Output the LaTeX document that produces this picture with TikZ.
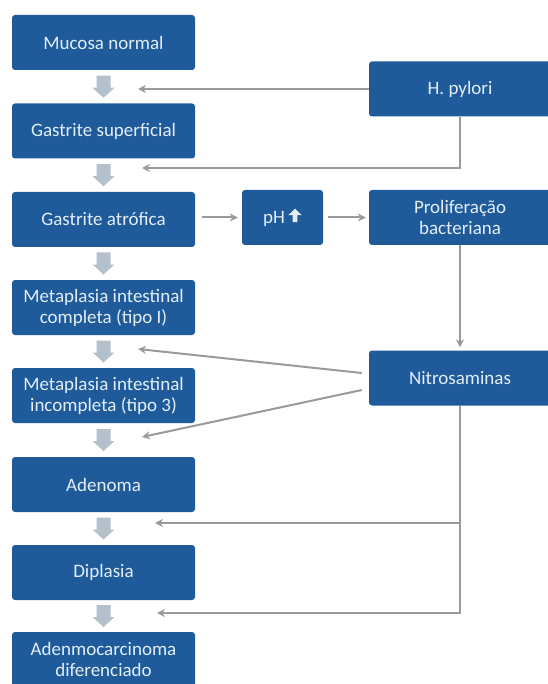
\documentclass[tikz,border=0pt]{standalone}
\usepackage{fontspec}
\setmainfont{Carlito}
\usetikzlibrary{arrows.meta,calc}
\definecolor{boxblue}{HTML}{1F5B9A}
\definecolor{boxtext}{HTML}{E4EEF9}
\definecolor{lineGrey}{HTML}{9A9A9A}
\definecolor{blockGrey}{HTML}{B5C0CD}
\newcommand\blockarr[2]{\fill[blockGrey] ($(#1.south)!0.5!(#2.north)$) ++(-7,-11) -- ++(14,0) -- ++(0,12) -- ++(4,0) -- ++(-11,10) -- ++(-11,-10) -- ++(4,0) -- cycle;}
\begin{document}
\begin{tikzpicture}[x=1pt,y=-1pt,
  box/.style={fill=boxblue, rounded corners=3pt, text=boxtext, align=center,
    minimum width=183pt, minimum height=55pt, inner sep=0pt,
    font=\fontsize{19}{21}\selectfont},
  rbox/.style={box, minimum width=182pt},
  conn/.style={draw=lineGrey, line width=2pt, -{Stealth[length=8pt,width=8pt]}}]
\useasboundingbox (0,0) rectangle (547,684);
% main column
\node[box] (mn) at (103.5,42.5) {Mucosa normal};
\node[box] (gs) at (103.5,131) {Gastrite superficial};
\node[box] (ga) at (103.5,219.5) {Gastrite atrófica};
\node[box] (mc) at (103.5,307.5) {Metaplasia intestinal\\completa (tipo I)};
\node[box] (mi) at (103.5,395.5) {Metaplasia intestinal\\incompleta (tipo 3)};
\node[box] (ad) at (103.5,484.5) {Adenoma};
\node[box] (di) at (103.5,572.5) {Diplasia};
\node[box] (ac) at (103.5,659.5) {Adenmocarcinoma\\diferenciado};
% right column
\node[rbox] (hp) at (460,89) {H. pylori};
\node[rbox] (pb) at (460,217.5) {Proliferação\\bacteriana};
\node[rbox] (ni) at (460,378) {Nitrosaminas};
\node[box, minimum width=81pt] (ph) at (282.5,217.5) {pH\,\tikz[x=1pt,y=1pt,baseline=-1pt,sharp corners]\fill[boxtext] (-2.3,0) -- (2.3,0) -- (2.3,7) -- (6.8,7) -- (0,13.5) -- (-6.8,7) -- (-2.3,7) -- cycle;};
% block arrows
\blockarr{mn}{gs}
\blockarr{gs}{ga}
\blockarr{ga}{mc}
\blockarr{mc}{mi}
\blockarr{mi}{ad}
\blockarr{ad}{di}
\blockarr{di}{ac}
% connectors
\coordinate (t1) at (138,89);
\draw[conn] (hp.west) -- (t1);
\coordinate (c2) at (460,168);
\coordinate (t2) at (142,168);
\draw[conn] (hp.south) -- (c2) -- (t2);
\draw[conn, shorten <=7pt, shorten >=4pt] (ga.east |- ph.west) -- (ph.west);
\draw[conn, shorten <=5pt, shorten >=3pt] (ph.east) -- (pb.west);
\draw[conn, shorten >=3pt] (pb.south) -- (ni.north);
\coordinate (s1) at ($(ni.west)+(-7,-5)$);
\coordinate (t3) at (138,349);
\coordinate (s2) at ($(ni.west)+(-7,12)$);
\coordinate (t4) at (142,437);
\draw[conn] (s1) -- (t3);
\draw[conn] (s2) -- (t4);
\coordinate (c5) at (460,523);
\coordinate (t5) at (155,523);
\coordinate (c6) at (460,613);
\coordinate (t6) at (157,613);
\draw[conn] (ni.south) -- (c6) -- (t6);
\draw[conn] (c5) -- (t5);
\end{tikzpicture}
\end{document}
